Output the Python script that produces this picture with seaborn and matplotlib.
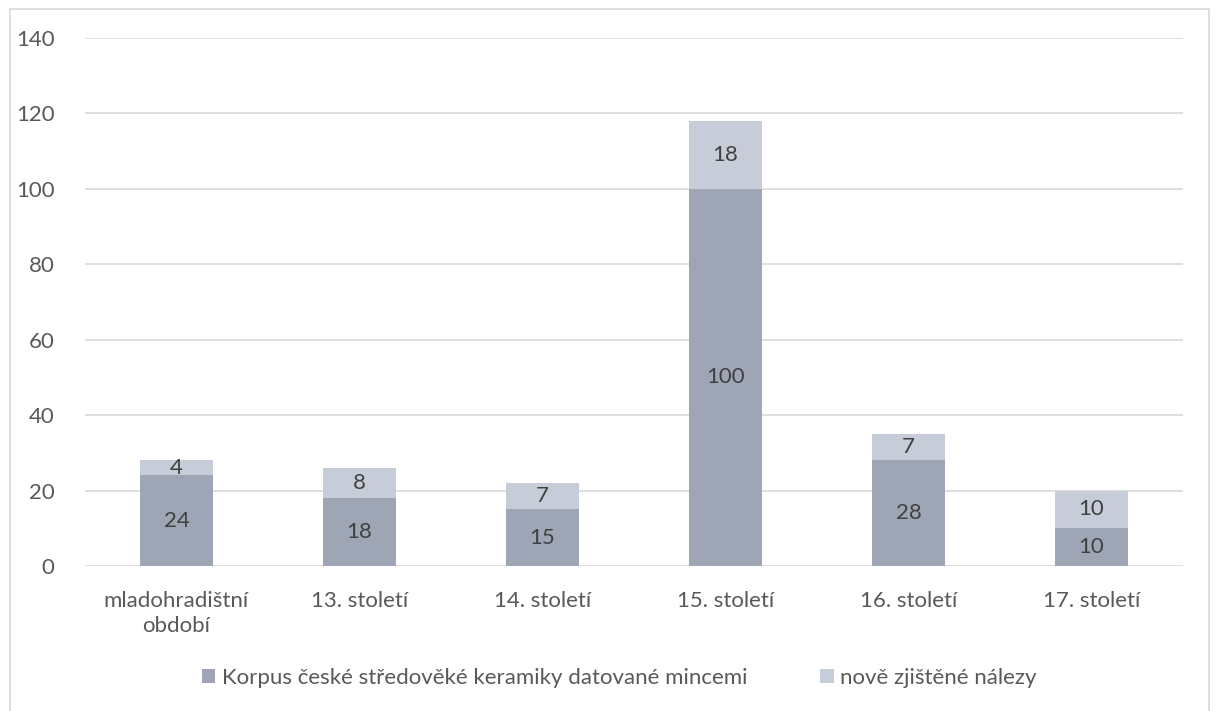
import matplotlib
matplotlib.use("Agg")
import matplotlib.pyplot as plt
import seaborn as sns
import pandas as pd
from matplotlib.patches import Rectangle, Patch

categories = ["mladohradištní\nobdobí", "13. století", "14. století", "15. století", "16. století", "17. století"]
korpus = [24, 18, 15, 100, 28, 10]
nove = [4, 8, 7, 18, 7, 10]
series_names = ["Korpus české středověké keramiky datované mincemi", "nově zjištěné nálezy"]
yticks = [0, 20, 40, 60, 80, 100, 120, 140]

c_dark = "#9EA5B4"
c_light = "#C6CCD8"
txt = "#595959"

sns.set_theme(style="white")
plt.rcParams['font.family'] = ['Lato', 'DejaVu Sans']

df = pd.DataFrame({"cat": categories, "korpus": korpus, "nove": nove})
df["total"] = df["korpus"] + df["nove"]

fig = plt.figure(figsize=(12.19, 7.11), dpi=100)
ax = fig.add_axes([0.0697, 0.204, 0.9008, 0.7426])

sns.barplot(data=df, x="cat", y="total", color=c_light, saturation=1, width=0.4, ax=ax,
            linewidth=0, edgecolor="none", zorder=2)
sns.barplot(data=df, x="cat", y="korpus", color=c_dark, saturation=1, width=0.4, ax=ax,
            linewidth=0, edgecolor="none", zorder=3)

fs = 16
for i, (k, n) in enumerate(zip(korpus, nove)):
    ax.text(i, k / 2, str(k), ha="center", va="center", fontsize=fs, color="#404040", zorder=5)
    ax.text(i, k + n / 2, str(n), ha="center", va="center", fontsize=fs, color="#404040", zorder=5)

ax.set_ylim(0, 140)
ax.set_xlim(-0.5, len(categories) - 0.5)
ax.set_yticks(yticks)
ax.set_yticklabels([str(v) for v in yticks])
ax.yaxis.grid(True, color="#D9D9D9", linewidth=1.2, zorder=0)
ax.set_axisbelow(True)
for s in ax.spines.values():
    s.set_visible(False)
ax.set_xlabel("")
ax.set_ylabel("")
ax.tick_params(axis="both", length=0, labelsize=fs, labelcolor=txt)
ax.tick_params(axis="x", pad=18)
ax.tick_params(axis="y", pad=22)
for lbl in ax.get_xticklabels():
    lbl.set_linespacing(1.3)

handles = [Patch(facecolor=c_dark, edgecolor="none"), Patch(facecolor=c_light, edgecolor="none")]
fig.legend(handles, series_names, loc="center", bbox_to_anchor=(0.508, 0.047), ncol=2, frameon=False,
           fontsize=fs, labelcolor=txt, handlelength=0.6, handleheight=0.6, handletextpad=0.3,
           columnspacing=3.3)

fig.patches.append(Rectangle((0.008, -0.01), 0.984, 0.998, transform=fig.transFigure,
                             fill=False, edgecolor="#D9D9D9", linewidth=1.2))

fig.savefig("out.png", dpi=100, facecolor="white")
